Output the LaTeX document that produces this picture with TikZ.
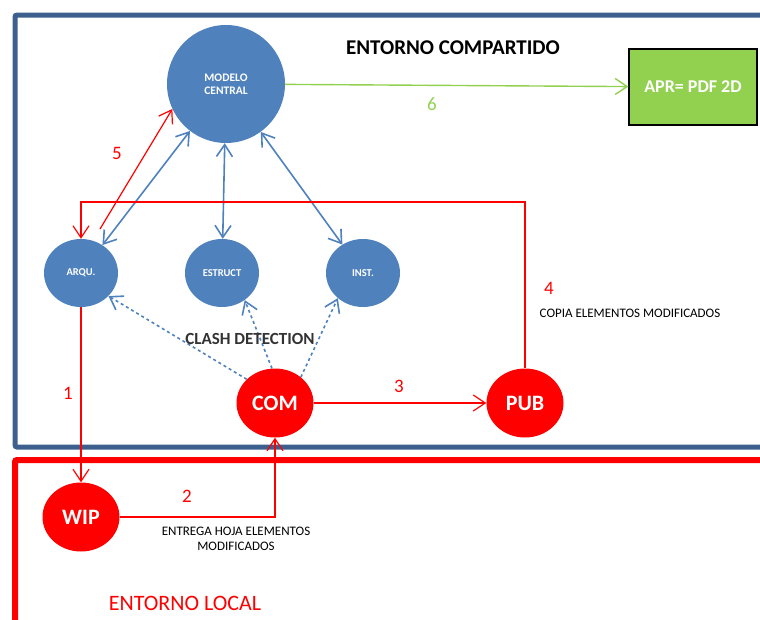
\documentclass[tikz,border=0pt]{standalone}
\usepackage{fontspec}
\setmainfont{Carlito}
\usetikzlibrary{shapes.geometric, arrows.meta}

\definecolor{nodeblue}{HTML}{4F81BD}
\definecolor{frameblue}{HTML}{3C5F8E}
\definecolor{aprgreen}{HTML}{92D050}

\begin{document}
\begin{tikzpicture}[x=1pt, y=-1pt,
    >={Straight Barb[length=12pt, width=16pt]},
    blob/.style={ellipse, fill=nodeblue, text=white, inner sep=0pt, align=center,
      font=\fontsize{10.5}{12}\selectfont\bfseries, minimum width=74pt, minimum height=68pt},
    redblob/.style={blob, fill=red, font=\fontsize{22}{22}\selectfont\bfseries,
      minimum width=77pt, minimum height=69pt},
    bline/.style={nodeblue, line width=1.6pt},
    rline/.style={red, line width=1.2pt},
    num/.style={font=\fontsize{19}{19}\selectfont, text=red},
    note/.style={font=\fontsize{13}{15}\selectfont, align=center}]

  \useasboundingbox (0,0) rectangle (760,619);
  \clip (0,0) rectangle (760,619);

  % the two environments
  \draw[frameblue, line width=5pt, rounded corners=2pt] (770,15) -- (15,15) -- (15,447) -- (770,447);
  \draw[red, line width=6pt, rounded corners=2pt] (770,460) -- (15,460) -- (15,630);
  \node[font=\fontsize{21}{21}\selectfont\bfseries] (tshared) at (453,48) {ENTORNO COMPARTIDO};
  \node[font=\fontsize{22}{22}\selectfont, text=red] (tlocal) at (185,603) {ENTORNO LOCAL};

  % nodes
  \node[blob, minimum size=118pt, font=\fontsize{11.5}{13}\selectfont\bfseries] (M) at (226,84) {MODELO\\CENTRAL};
  \node[blob] (A) at (81,273) {ARQU.};
  \node[blob] (E) at (222,273) {ESTRUCT};
  \node[blob] (I) at (363,273) {INST.};
  \node[redblob] (C) at (275,403) {COM};
  \node[redblob] (P) at (525,403) {PUB};
  \node[redblob] (W) at (81,517) {WIP};
  \node[draw=black, line width=1.2pt, fill=aprgreen, text=white, minimum width=128pt,
    minimum height=76pt, font=\fontsize{18}{18}\selectfont\bfseries] (R) at (693,87) {APR= PDF 2D};

  % links to the central model
  \draw[bline, <->] (M) -- (A);
  \draw[bline, <->] (M) -- (E);
  \draw[bline, <->] (M) -- (I);
  \draw[bline, ->, dashed] (C.140) -- (A.-40);
  \draw[bline, ->, dashed] (C.95) -- (E.-50);
  \draw[bline, ->, dashed] (C.45) -- (I.-135);
  \node[font=\fontsize{17}{17}\selectfont\bfseries, text=black!80] (tclash) at (250,339) {CLASH DETECTION};

  % workflow
  \coordinate (s5) at (100,229);
  \coordinate (k4) at (525,202);
  \draw[rline, ->] (A) -- (W);
  \draw[rline, ->] (W) -| (C);
  \draw[rline, ->] (C) -- (P);
  \draw[rline, ->] (P) -- (k4) -| (A);
  \draw[rline, ->] (s5) -- (M.205);
  \draw[aprgreen, line width=1.4pt, ->] (M) -- (R);

  \node[num] (n1) at (68,393) {1};
  \node[num] (n2) at (187,496) {2};
  \node[num] (n3) at (399,386) {3};
  \node[num] (n4) at (549,288) {4};
  \node[num] (n5) at (117,153) {5};
  \node[num, text=aprgreen] (n6) at (432,104) {6};
  \node[note] (t2) at (236,539) {ENTREGA HOJA ELEMENTOS\\MODIFICADOS};
  \node[note] (t4) at (630,313) {COPIA ELEMENTOS MODIFICADOS};
\end{tikzpicture}
\end{document}
